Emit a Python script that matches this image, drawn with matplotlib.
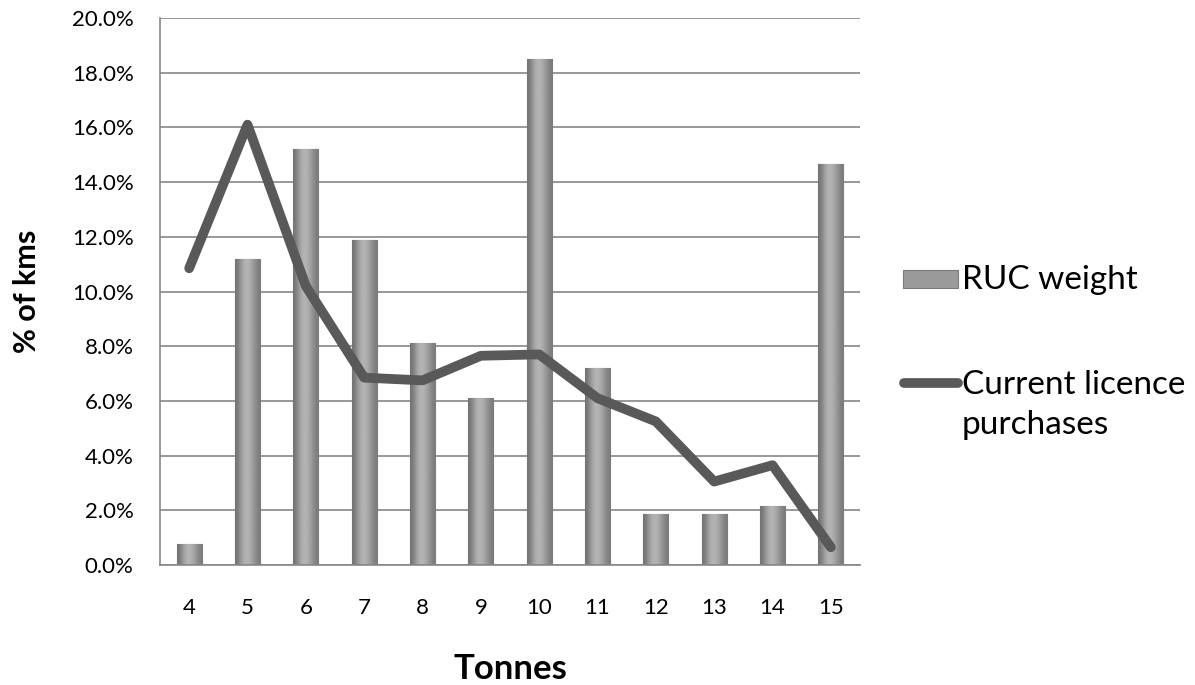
import numpy as np
import matplotlib.pyplot as plt
from matplotlib.ticker import FuncFormatter
from matplotlib.patches import Rectangle
from matplotlib.lines import Line2D
from matplotlib.transforms import ScaledTranslation

plt.rcParams['font.family'] = ['Lato', 'DejaVu Sans']

# Datos del gráfico
tonnes = [4, 5, 6, 7, 8, 9, 10, 11, 12, 13, 14, 15]
ruc_weight = [0.77, 11.2, 15.2, 11.9, 8.1, 6.1, 18.5, 7.2, 1.88, 1.88, 2.17, 14.65]
licence = [10.85, 16.1, 10.2, 6.85, 6.75, 7.65, 7.7, 6.1, 5.25, 3.05, 3.65, 0.65]

W, H = 1195, 685
fig = plt.figure(figsize=(W / 100, H / 100), dpi=100)
ax = fig.add_axes([160 / W, 1 - 565 / H, 700 / W, 547 / H])

x = np.arange(len(tonnes))
width = 0.43
line_col = '#595959'

# barras con un degradado gris
bars = ax.bar(x, ruc_weight, width, color='none', edgecolor='#7a7a7a', lw=0.8,
              zorder=2)
grad = np.array([[0.45, 0.62, 0.72, 0.68, 0.58, 0.48]])
for b in bars:
    x0, y0 = b.get_x(), b.get_y()
    im = ax.imshow(grad, cmap='gray', vmin=0, vmax=1, aspect='auto',
                   extent=[x0, x0 + b.get_width(), y0, y0 + b.get_height()],
                   zorder=2, interpolation='bicubic')
    im.set_clip_path(b)

ax.plot(x, licence, color=line_col, lw=7, solid_capstyle='round',
        solid_joinstyle='round', zorder=3)

ax.set_xlim(-0.5, len(tonnes) - 0.5)
ax.set_ylim(0, 20)
ax.set_yticks(np.arange(0, 21, 2))
ax.yaxis.set_major_formatter(FuncFormatter(lambda v, p: f"{v:.1f}%"))
ax.set_xticks(x)
ax.set_xticklabels(tonnes)
ax.grid(axis='y', color='#868686', lw=1.2, zorder=0)
ax.set_axisbelow(True)

for s in ['top', 'right']:
    ax.spines[s].set_visible(False)
for s in ['left', 'bottom']:
    ax.spines[s].set_color('#868686')
    ax.spines[s].set_linewidth(1.2)
ax.tick_params(axis='y', labelsize=16, length=0, pad=19)
ax.tick_params(axis='x', labelsize=16, length=0, pad=24)

ax.set_xlabel('Tonnes', fontsize=25, fontweight='bold', labelpad=25)
ax.set_ylabel('% of kms', fontsize=22, fontweight='bold', labelpad=22)

# leyenda dibujada a mano (el trazo va alineado con la primera línea)
tf = fig.transFigure
fig.add_artist(Rectangle((903 / W, 1 - 288 / H), 55 / W, 18 / H, transform=tf,
                         facecolor='#9a9a9a', edgecolor='#7a7a7a', lw=0.8))
fig.text(962 / W, 1 - 280 / H, 'RUC weight', fontsize=24, va='center', ha='left')
fig.add_artist(Line2D([904 / W, 958 / W], [1 - 383 / H, 1 - 383 / H], transform=tf,
                      color=line_col, lw=7, solid_capstyle='round'))
fig.text(962 / W, 1 - 383 / H, 'Current licence\npurchases', fontsize=24,
         va='top', ha='left', linespacing=1.38,
         transform=tf + ScaledTranslation(0, 9 / 72, fig.dpi_scale_trans))

plt.savefig('out.png', dpi=100)
